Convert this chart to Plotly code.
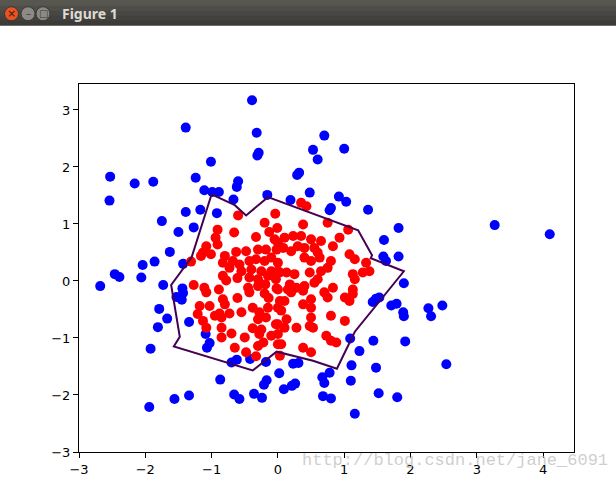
import plotly.graph_objects as go

# ---------------- data ----------------
blue_x = [-0.39, -1.39, -0.32, 0.70, 1.00, 0.53, -0.29, -0.31, -1.01, 0.60, 0.32, 0.29,
          -2.53, -2.16, -1.88, -1.24, -0.62, -0.60, -2.54, -1.11, -0.99, -0.89, -0.67,
          -1.17, -1.39, -0.16, 0.19, 0.48, 0.92, 1.03, 0.80, 0.78, 1.36,
          -0.92, -1.75, -1.27, -1.50, -1.63, -1.86, -2.04, -1.43, -2.46, -2.39, -2.06,
          -2.68, -1.73, -1.44, -1.43, -1.53, -1.45, -1.79, -1.67, -1.34, -1.81,
          -1.92, -1.09, -1.03, -1.07, -0.70, -0.62, -0.87, -1.34, -1.56, -1.94, -0.66, -0.58,
          1.09, 1.44, 1.92, 1.23, -0.42, -0.18, 0.02, 0.23, 0.31, 1.11, 1.48, 0.78, 0.67,
          0.70, 1.10, -0.17, -0.21, 0.26, 0.21, 0.09, -0.36, -0.24, 0.68, 0.80, 1.52, 1.80,
          1.16, 2.54, 3.27, 4.10, 2.27, 2.31, 2.48,
          1.82, 1.60, 1.59, 1.63, 1.82, 1.90, 1.43, 1.48, 1.53, 1.71, 1.79, 1.89, 1.90]
blue_y = [3.17, 2.69, 2.60, 2.55, 2.32, 2.30, 2.25, 2.20, 2.09, 2.13, 1.90, 1.86,
          1.83, 1.71, 1.74, 1.81, 1.65, 1.75, 1.41, 1.59, 1.56, 1.56, 1.43,
          1.25, 1.21, 1.51, 1.42, 1.55, 1.48, 1.39, 1.28, 1.24, 1.25,
          1.19, 1.05, 0.94, 0.86, 0.51, 0.34, 0.28, 0.30, 0.12, 0.07, 0.06,
          -0.09, -0.07, -0.13, -0.21, -0.28, -0.33, -0.49, -0.66, -0.72, -0.81,
          -1.19, -0.93, -1.09, -1.17, -1.43, -1.38, -1.73, -2.01, -2.07, -2.21, -1.99, -2.07,
          -1.01, -1.05, -1.06, -1.23, -1.37, -1.42, -1.62, -1.45, -1.44, -1.48, -1.52, -1.61, -1.69,
          -1.79, -1.75, -1.74, -1.82, -1.80, -1.84, -1.90, -1.98, -2.05, -2.02, -2.06, -1.97, -2.04,
          -2.33, -1.46, 0.98, 0.82, -0.48, -0.62, -0.43,
          0.93, 0.72, 0.43, 0.35, 0.43, -0.04, -0.37, -0.31, -0.29, -0.43, -0.40, -0.55, -0.62]

red_x = [-0.60, -0.04, -0.20, -0.91, -0.66, -0.94, -0.33, -0.13, -0.01, -0.05,
         -1.08, -1.13, -1.01, -1.16, -0.91, -0.63, -0.48, -0.30, -0.18, -0.02,
         -1.31, -0.80, -0.83, -0.68, -0.58, -0.43, -0.33, -0.20, -0.10, 0.00,
         -0.73, -0.55, -0.40, -0.25, -0.10, 0.03, -0.83, -0.78, -0.61, -0.43,
         -0.30, -0.15, -0.03, -1.27, -1.11, -0.89, -0.45, -0.30, -0.19, -0.02,
         -1.08, -0.83, -0.61, -0.43, -0.20, -0.14, 0.03, -1.18, -1.03, -0.80,
         -0.88, -0.73, -0.55, -0.38, -0.28, -0.15, 0.00, -1.21, -1.13, -0.95,
         -0.85, -0.30, -0.18, -1.08, -0.85, -0.38, -0.03, -0.85, -0.70, -0.50,
         -0.28, -0.10, 0.00, -0.65, -0.48, -0.30, 0.00, -0.33, 0.03, -0.25, -0.22,
         0.35, 0.43, 0.38, 0.75, 1.06, 0.10, 0.23, 0.35, 0.50, 0.65,
         0.93, 0.00, 0.08, 0.20, 0.30, 0.40, 0.55, 0.60, 0.83, 1.08,
         1.16, 0.40, 0.50, 0.63, 0.80, 1.33, 0.00, 0.13, 0.25, 0.48,
         0.65, 0.75, 1.13, 1.28, 1.38, 0.60, 1.16, 0.18, 0.28, 0.40,
         0.55, 0.15, 0.83, 1.13, 0.00, 0.20, 0.38, 0.50, 0.70, 0.75,
         1.01, 1.08, 1.13, 0.10, 0.38, 0.50, 0.05, 0.13, 0.80, 0.50,
         0.00, 0.10, 0.28, 0.48, 0.53, 1.01, 0.73, 0.80, 0.88, 0.05,
         0.38, 0.50]
red_y = [1.15, 1.18, 1.02, 0.90, 0.85, 0.76, 0.77, 0.86, 0.93, 0.73,
         0.61, 0.50, 0.47, 0.44, 0.64, 0.51, 0.52, 0.55, 0.55, 0.55,
         0.34, 0.44, 0.32, 0.35, 0.29, 0.35, 0.38, 0.35, 0.41, 0.32,
         0.23, 0.17, 0.20, 0.17, 0.17, 0.15, 0.09, 0.01, 0.05, 0.06,
         0.03, 0.09, 0.03, -0.07, -0.12, -0.15, -0.12, -0.09, -0.06, -0.13,
         -0.20, -0.32, -0.30, -0.20, -0.22, -0.30, -0.35, -0.44, -0.44, -0.41,
         -0.57, -0.57, -0.55, -0.47, -0.55, -0.47, -0.47, -0.58, -0.70, -0.61,
         -0.64, -0.67, -0.64, -0.82, -0.82, -0.83, -0.76, -0.99, -0.92, -0.99,
         -0.93, -0.96, -0.93, -1.17, -1.25, -1.14, -1.11, -1.32, -1.31, -0.85, -1.08,
         1.37, 1.31, 0.99, 1.02, 0.90, 0.76, 0.79, 0.79, 0.73, 0.70,
         0.76, 0.67, 0.58, 0.52, 0.61, 0.58, 0.58, 0.50, 0.61, 0.47,
         0.38, 0.41, 0.35, 0.41, 0.35, 0.32, 0.17, 0.15, 0.12, 0.15,
         0.17, 0.23, 0.12, 0.15, 0.17, 0.03, 0.03, -0.06, -0.12, -0.09,
         -0.03, -0.15, -0.12, -0.15, -0.15, -0.20, -0.17, -0.32, -0.20, -0.29,
         -0.29, -0.35, -0.23, -0.35, -0.41, -0.47, -0.52, -0.67, -0.61, -0.64,
         -0.76, -0.82, -0.82, -0.79, -0.82, -0.70, -0.96, -1.05, -1.08, -1.11,
         -1.17, -1.25]

# decision boundary (contour line)
boundary_x = [-1.00, -0.65, -0.48, -0.15, 1.21, 1.42, 1.40, 1.90, 1.16, 0.89,
              0.53, -0.02, -0.38, -1.57, -1.48, -1.61, -1.30, -1.00]
boundary_y = [1.52, 1.33, 1.15, 1.47, 0.89, 0.45, 0.40, 0.17, -0.89, -1.54,
              -1.40, -1.24, -1.57, -1.15, -0.98, -0.07, 0.42, 1.52]

x_ticks = [-3, -2, -1, 0, 1, 2, 3, 4]
y_ticks = [-3, -2, -1, 0, 1, 2, 3]
x_range = [-3, 4.466]
y_range = [-3, 3.455]

# ---------------- figure ----------------
W, H_REF = 616, 481
H = 489                      # page height that maps onto the 481-px picture
KV = H / H_REF               # vertical correction
L, R, T_REF, B_REF = 79, 574, 83, 452   # plot area in reference pixels
T = round(T_REF * KV)
B = round(B_REF * KV)


def px(x):
    return (x - L) / (R - L)


def py(y_ref):
    return (B - y_ref * KV) / (B - T)


fig = go.Figure()
fig.add_trace(go.Scatter(x=blue_x, y=blue_y, mode="markers",
                         marker=dict(color="#0000ff", size=10, line=dict(width=0)),
                         hoverinfo="skip"))
fig.add_trace(go.Scatter(x=red_x, y=red_y, mode="markers",
                         marker=dict(color="#ff0000", size=10, line=dict(width=0)),
                         hoverinfo="skip"))
fig.add_trace(go.Scatter(x=boundary_x, y=boundary_y, mode="lines",
                         line=dict(color="#440154", width=2), hoverinfo="skip"))

axis_common = dict(showgrid=False, zeroline=False, showline=True, linecolor="black",
                   linewidth=1, mirror=True, ticks="outside", ticklen=5, tickwidth=1,
                   tickcolor="black", tickfont=dict(family="DejaVu Sans", size=13, color="black"))
fig.update_xaxes(range=x_range, tickvals=x_ticks, **axis_common)
fig.update_yaxes(range=y_range, tickvals=y_ticks, **axis_common)

shapes = []
# window title bar (overlapping bands -> soft vertical gradient)
bar_cols = ["#3c3b37", "#42413d", "#484743", "#4f4e49", "#57564f"]
bar_h = [24, 19, 14, 9, 4]
for c, h in zip(bar_cols, bar_h):
    shapes.append(dict(type="rect", xref="paper", yref="paper", layer="above",
                       x0=px(-2), x1=px(W + 2), y0=py(h), y1=py(-2),
                       fillcolor=c, line=dict(width=0)))
# window buttons
for cx, col in [(11.5, "#e95420"), (28, "#8c8a85"), (43, "#8c8a85")]:
    shapes.append(dict(type="circle", xref="paper", yref="paper", layer="above",
                       xsizemode="pixel", ysizemode="pixel",
                       xanchor=px(cx), yanchor=py(12),
                       x0=-7, x1=7, y0=-7, y1=7, fillcolor=col,
                       line=dict(color="#3a3935", width=1)))

annotations = [
    dict(x=px(60), y=py(12), xref="paper", yref="paper", text="<b>Figure 1</b>",
         showarrow=False, xanchor="left", yanchor="middle",
         font=dict(family="Noto Sans", size=14, color="#dfdbd2")),
    dict(x=px(11.5), y=py(12), xref="paper", yref="paper", text="×",
         showarrow=False, xanchor="center", yanchor="middle",
         font=dict(family="DejaVu Sans", size=11, color="#3c1a0c")),
    dict(x=px(28), y=py(12), xref="paper", yref="paper", text="–",
         showarrow=False, xanchor="center", yanchor="middle",
         font=dict(family="DejaVu Sans", size=10, color="#3c3b37")),
    dict(x=px(43), y=py(12), xref="paper", yref="paper", text="□",
         showarrow=False, xanchor="center", yanchor="middle",
         font=dict(family="DejaVu Sans", size=10, color="#3c3b37")),
    dict(x=px(300), y=py(461), xref="paper", yref="paper",
         text="http://blog.csdn.net/jane_6091",
         showarrow=False, xanchor="left", yanchor="middle",
         font=dict(family="Liberation Mono", size=17, color="rgba(190,190,190,0.75)")),
]

fig.update_layout(width=W, height=H, autosize=False,
                  margin=dict(l=L, r=W - R, t=T, b=H - B, pad=0),
                  paper_bgcolor="white", plot_bgcolor="white",
                  showlegend=False, shapes=shapes, annotations=annotations)

fig.write_html("out.html", config={"displayModeBar": False},
               post_script="document.body.style.margin='0';"
                           "document.body.style.overflow='hidden';")
